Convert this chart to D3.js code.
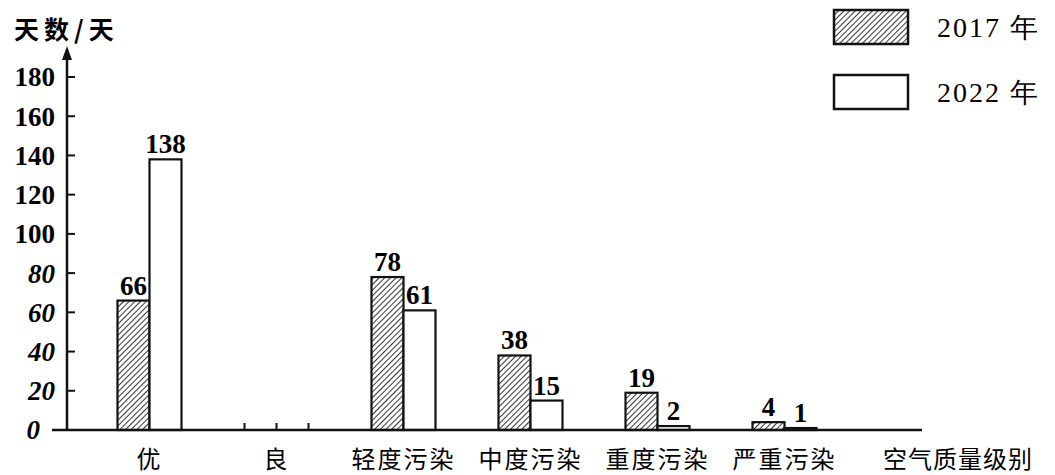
<!DOCTYPE html>
<html>
<head>
<meta charset="utf-8">
<script src="https://cdn.jsdelivr.net/npm/d3@7"></script>
<style>
  body { margin: 0; background: #fff; }
  svg { display: block; }
</style>
</head>
<body>
<div id="chartDiv"></div>
<script>
var categories = ["优", "良", "轻度污染", "中度污染", "重度污染", "严重污染"];
var days2017 = [66, null, 78, 38, 19, 4];
var days2022 = [138, null, 61, 15, 2, 1];
var yTicks = [0, 20, 40, 60, 80, 100, 120, 140, 160, 180];
var seriesNames = ["2017 年", "2022 年"];

var width = 1055, height = 475;
var cjk = "'Noto Sans CJK SC', sans-serif";
var serif = "'Liberation Serif', 'DejaVu Serif', serif";

var svg = d3.select("#chartDiv")
  .append("svg")
    .attr("width", width)
    .attr("height", height);

// hatch pattern for 2017
var defs = svg.append("defs");
defs.append("pattern")
    .attr("id", "hatch")
    .attr("patternUnits", "userSpaceOnUse")
    .attr("width", 4)
    .attr("height", 4)
    .attr("patternTransform", "rotate(45)")
  .append("line")
    .attr("x1", 0).attr("y1", 0)
    .attr("x2", 0).attr("y2", 4)
    .attr("stroke", "#111")
    .attr("stroke-width", 1.7);

// scales
var x = d3.scaleBand()
    .domain(categories)
    .range([86, 848]);

var y = d3.scaleLinear()
    .domain([0, 180])
    .range([430, 77]);

var barW = 32;
var axisX = 67;

var data = categories.map(function(c, i) {
  return { cat: c, a: days2017[i], b: days2022[i] };
});

var g = svg.append("g");

function valueLabel(xPos, v) {
  g.append("text")
    .attr("x", xPos)
    .attr("y", y(v) - 6)
    .attr("text-anchor", "middle")
    .style("font-family", serif)
    .style("font-weight", "bold")
    .style("font-size", "27px")
    .text(v);
}

data.forEach(function(d) {
  var cx = x(d.cat) + x.bandwidth() / 2;
  if (d.a == null) {
    // empty category: only small marks on the axis
    [-barW, 0, barW].forEach(function(off) {
      g.append("line")
        .attr("x1", cx + off).attr("x2", cx + off)
        .attr("y1", y(0)).attr("y2", y(0) - 7)
        .attr("stroke", "#111").attr("stroke-width", 2);
    });
    return;
  }
  g.append("rect")
    .attr("x", cx - barW)
    .attr("y", y(d.a))
    .attr("width", barW)
    .attr("height", y(0) - y(d.a))
    .attr("fill", "url(#hatch)")
    .attr("stroke", "#111")
    .attr("stroke-width", 2.2);
  g.append("rect")
    .attr("x", cx)
    .attr("y", y(d.b))
    .attr("width", barW)
    .attr("height", y(0) - y(d.b))
    .attr("fill", "#fff")
    .attr("stroke", "#111")
    .attr("stroke-width", 2.2);
  valueLabel(cx - barW / 2, d.a);
  valueLabel(cx + barW / 2, d.b);
});

// x axis
svg.append("line")
  .attr("x1", 52).attr("x2", 922)
  .attr("y1", y(0)).attr("y2", y(0))
  .attr("stroke", "#111").attr("stroke-width", 2.5);

svg.append("g")
  .selectAll("text")
  .data(categories)
  .enter()
  .append("text")
    .attr("x", function(d) { return x(d) + x.bandwidth() / 2; })
    .attr("y", 468)
    .attr("text-anchor", "middle")
    .style("font-family", cjk)
    .style("font-size", "24px")
    .style("letter-spacing", "2px")
    .text(function(d) { return d; });

svg.append("text")
  .attr("x", 958)
  .attr("y", 468)
  .attr("text-anchor", "middle")
  .style("font-family", cjk)
  .style("font-size", "24px")
  .style("letter-spacing", "1px")
  .text("空气质量级别");

// y axis
svg.append("line")
  .attr("x1", axisX).attr("x2", axisX)
  .attr("y1", y(0)).attr("y2", 54)
  .attr("stroke", "#111").attr("stroke-width", 2.5);
svg.append("path")
  .attr("d", "M" + axisX + ",46 L" + (axisX - 5) + ",60 L" + (axisX + 5) + ",60 Z")
  .attr("fill", "#111");

var yAxis = svg.append("g");
yTicks.forEach(function(t) {
  if (t > 0) {
    yAxis.append("line")
      .attr("x1", axisX).attr("x2", axisX + 8)
      .attr("y1", y(t)).attr("y2", y(t))
      .attr("stroke", "#111").attr("stroke-width", 2);
  }
  yAxis.append("text")
    .attr("x", t === 0 ? 40 : 55)
    .attr("y", y(t))
    .attr("dy", "0.35em")
    .attr("text-anchor", "end")
    .style("font-family", serif)
    .style("font-weight", "bold")
    .style("font-style", t <= 80 ? "italic" : "normal")
    .style("font-size", "27px")
    .text(t);
});

svg.append("text")
  .attr("x", 14)
  .attr("y", 39)
  .style("font-family", cjk)
  .style("font-weight", "bold")
  .style("font-size", "25px")
  .style("letter-spacing", "5px")
  .text("天数/天");

// legend
var legend = svg.append("g");
var legendY = [10, 75];
seriesNames.forEach(function(name, i) {
  legend.append("rect")
    .attr("x", 834)
    .attr("y", legendY[i])
    .attr("width", 74)
    .attr("height", 34)
    .attr("fill", i === 0 ? "url(#hatch)" : "#fff")
    .attr("stroke", "#111")
    .attr("stroke-width", 2.5);
  legend.append("text")
    .attr("x", 937)
    .attr("y", legendY[i] + 17)
    .attr("dy", "0.35em")
    .style("font-family", serif)
    .style("font-size", "28px")
    .style("letter-spacing", "2px")
    .text(name);
});
</script>
</body>
</html>
